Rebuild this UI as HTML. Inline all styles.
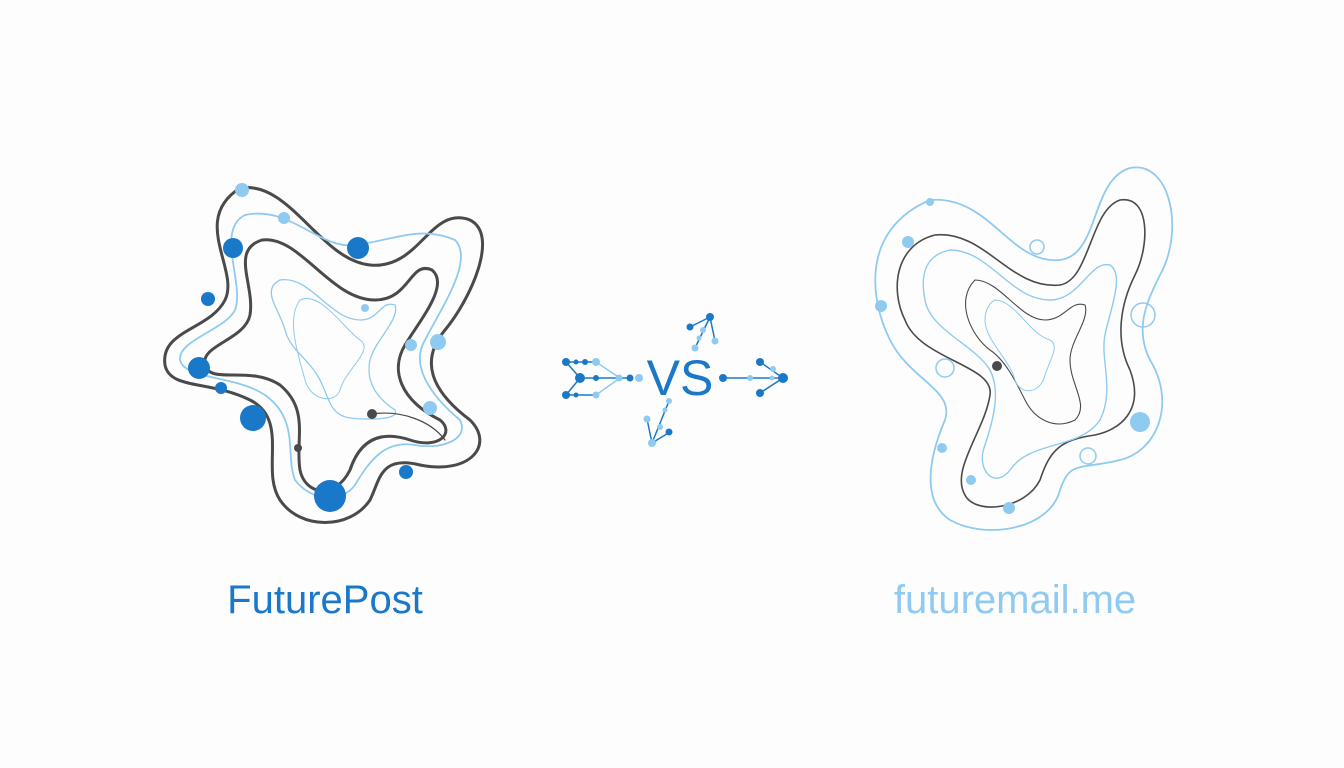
<!DOCTYPE html>
<html><head><meta charset="utf-8"><style>
html,body{margin:0;padding:0;background:#fdfdfd;width:1344px;height:768px;overflow:hidden}
svg{display:block}
</style></head><body>
<svg width="1344" height="768" viewBox="0 0 1344 768" xmlns="http://www.w3.org/2000/svg">
<rect width="1344" height="768" fill="#fdfdfd"/>
<g fill="none" stroke-linecap="round">
<path d="M240 188 C290 180,320 260,370 265 C420 270,430 205,470 220 C500 235,470 300,445 330 C420 360,430 390,470 420 C495 445,470 475,420 465 C380 455,380 480,370 500 C350 530,300 530,280 500 C260 470,290 420,250 400 C210 380,170 390,165 365 C160 330,210 330,225 300 C240 270,190 220,240 188 Z" stroke="#4a4a4a" stroke-width="3"/>
<path d="M262 240 C300 235,330 300,375 300 C410 300,410 260,432 270 C450 285,420 320,405 345 C390 370,400 400,440 420 C455 432,440 450,410 440 C380 430,360 440,350 470 C335 500,305 495,300 470 C295 440,310 410,280 385 C250 365,210 385,205 365 C200 345,245 340,250 315 C255 285,230 250,262 240 Z" stroke="#4a4a4a" stroke-width="3"/>
<path d="M245 215 C290 205,320 250,355 245 C395 240,420 225,455 240 C475 260,440 310,425 340 C410 365,430 395,460 420 C470 440,440 450,415 445 C385 440,370 460,355 485 C340 505,310 500,295 480 C285 455,300 420,265 395 C235 375,185 380,180 360 C178 340,225 330,235 310 C245 285,215 230,245 215 Z" stroke="#8fcaf0" stroke-width="1.8"/>
<path d="M280 280 C310 275,330 320,360 320 C380 320,380 300,395 305 C400 320,375 340,370 360 C365 385,380 400,395 410 C400 420,370 420,350 418 C330 415,330 400,320 380 C310 360,290 350,285 330 C280 310,260 290,280 280 Z" stroke="#8fcaf0" stroke-width="1.3"/>
<path d="M300 300 C320 290,345 330,360 340 C375 350,345 370,340 390 C335 405,310 400,305 380 C300 360,285 320,300 300 Z" stroke="#8fcaf0" stroke-width="1"/>
<path d="M372 414 C400 410,430 420,445 440" stroke="#4a4a4a" stroke-width="1.2"/>
</g>
<g>
<circle cx="242" cy="190" r="7" fill="#8fcaf0"/>
<circle cx="284" cy="218" r="6" fill="#8fcaf0"/>
<circle cx="233" cy="248" r="10" fill="#1a78c8"/>
<circle cx="358" cy="248" r="11" fill="#1a78c8"/>
<circle cx="208" cy="299" r="7" fill="#1a78c8"/>
<circle cx="365" cy="308" r="4" fill="#8fcaf0"/>
<circle cx="199" cy="368" r="11" fill="#1a78c8"/>
<circle cx="221" cy="388" r="6" fill="#1a78c8"/>
<circle cx="411" cy="345" r="6" fill="#8fcaf0"/>
<circle cx="438" cy="342" r="8" fill="#8fcaf0"/>
<circle cx="253" cy="418" r="13" fill="#1a78c8"/>
<circle cx="372" cy="414" r="5" fill="#4a4a4a"/>
<circle cx="430" cy="408" r="7" fill="#8fcaf0"/>
<circle cx="298" cy="448" r="4" fill="#4a4a4a"/>
<circle cx="406" cy="472" r="7" fill="#1a78c8"/>
<circle cx="330" cy="496" r="16" fill="#1a78c8"/>
</g>
<g fill="none">
<path d="M930 200 C990 195,1010 265,1060 260 C1100 255,1090 180,1130 168 C1170 160,1185 230,1160 275 C1145 305,1135 330,1150 360 C1175 400,1160 450,1120 460 C1080 470,1070 460,1060 490 C1050 530,985 540,950 520 C920 500,930 455,945 420 C955 390,910 380,890 340 C870 300,860 230,930 200 Z" stroke="#8fcaf0" stroke-width="1.8"/>
<path d="M935 235 C985 230,1010 290,1060 285 C1090 280,1090 210,1120 200 C1150 195,1150 245,1135 275 C1120 305,1115 340,1130 370 C1145 410,1120 430,1095 435 C1060 440,1050 450,1040 480 C1025 510,975 515,965 495 C950 470,985 430,990 395 C995 365,920 360,905 320 C890 290,895 245,935 235 Z" stroke="#4a4a4a" stroke-width="1.6"/>
<path d="M950 250 C990 250,1010 300,1050 300 C1080 300,1090 260,1110 265 C1125 275,1110 310,1105 335 C1100 360,1115 390,1100 420 C1080 450,1030 440,1010 470 C995 490,975 470,985 445 C995 415,1000 390,990 370 C975 345,930 330,925 300 C920 275,925 255,950 250 Z" stroke="#8fcaf0" stroke-width="1.4"/>
<path d="M975 280 C1000 280,1020 320,1045 320 C1065 320,1070 300,1085 305 C1090 320,1070 340,1070 360 C1070 385,1090 405,1075 420 C1055 430,1035 420,1025 400 C1015 380,1005 360,990 350 C970 335,955 300,975 280 Z" stroke="#4a4a4a" stroke-width="1.1"/>
<path d="M995 300 C1015 300,1030 335,1050 340 C1060 345,1050 360,1045 375 C1040 395,1020 395,1015 380 C1010 360,985 340,985 320 C985 310,990 302,995 300 Z" stroke="#8fcaf0" stroke-width="1"/>
<circle cx="1037" cy="247" r="7" stroke="#8fcaf0" stroke-width="1.5"/>
<circle cx="1143" cy="315" r="12" stroke="#8fcaf0" stroke-width="1.5"/>
<circle cx="945" cy="368" r="9" stroke="#8fcaf0" stroke-width="1.5"/>
<circle cx="1088" cy="456" r="8" stroke="#8fcaf0" stroke-width="1.5"/>
</g>
<g fill="#8fcaf0">
<circle cx="930" cy="202" r="4"/>
<circle cx="908" cy="242" r="6"/>
<circle cx="881" cy="306" r="6"/>
<circle cx="997" cy="366" r="5" fill="#4a4a4a"/>
<circle cx="1140" cy="422" r="10"/>
<circle cx="942" cy="448" r="5"/>
<circle cx="971" cy="480" r="5"/>
<circle cx="1009" cy="508" r="6"/>
</g>
<g stroke-width="1.5">
<g stroke="#1a78c8"><line x1="566" y1="362" x2="580" y2="378"/><line x1="566" y1="395" x2="580" y2="378"/><line x1="580" y1="378" x2="630" y2="378"/><line x1="566" y1="362" x2="596" y2="362"/><line x1="566" y1="395" x2="596" y2="395"/>
<line x1="722" y1="378" x2="783" y2="378"/><line x1="760" y1="362" x2="783" y2="378"/><line x1="760" y1="393" x2="783" y2="378"/>
<line x1="710" y1="317" x2="690" y2="327"/><line x1="710" y1="317" x2="695" y2="348"/><line x1="710" y1="317" x2="715" y2="341"/>
<line x1="652" y1="443" x2="670" y2="432"/><line x1="652" y1="443" x2="647" y2="419"/><line x1="652" y1="443" x2="669" y2="401"/></g>
<g stroke="#8fcaf0"><line x1="596" y1="362" x2="620" y2="378"/><line x1="596" y1="395" x2="620" y2="378"/></g>
</g>
<g fill="#1a78c8">
<circle cx="566" cy="362" r="4"/><circle cx="566" cy="395" r="4"/><circle cx="580" cy="378" r="5"/><circle cx="630" cy="378" r="3.5"/>
<circle cx="576" cy="362" r="2.5"/><circle cx="585" cy="362" r="3"/><circle cx="576" cy="395" r="2.5"/><circle cx="596" cy="378" r="3"/>
<circle cx="723" cy="378" r="4"/><circle cx="783" cy="378" r="5"/><circle cx="760" cy="362" r="4"/><circle cx="760" cy="393" r="4"/>
<circle cx="710" cy="317" r="4"/><circle cx="690" cy="327" r="3.5"/><circle cx="669" cy="432" r="3.5"/>
</g>
<g fill="#8fcaf0">
<circle cx="596" cy="362" r="4"/><circle cx="596" cy="395" r="3.5"/><circle cx="619" cy="378" r="3.5"/><circle cx="639" cy="378" r="4"/>
<circle cx="750" cy="378" r="3"/><circle cx="773" cy="369" r="3"/><circle cx="772" cy="378" r="2.5"/>
<circle cx="703" cy="330" r="3"/><circle cx="699" cy="338" r="2.5"/><circle cx="695" cy="348" r="3.5"/><circle cx="715" cy="341" r="3.5"/>
<circle cx="669" cy="401" r="3"/><circle cx="665" cy="410" r="2.5"/><circle cx="660" cy="427" r="3"/><circle cx="647" cy="419" r="3.5"/><circle cx="652" cy="443" r="4"/>
</g>
<text x="680" y="395" text-anchor="middle" font-family="Liberation Sans, sans-serif" font-size="50" fill="#1a78c8">VS</text>
<text x="325" y="613" text-anchor="middle" font-family="Liberation Sans, sans-serif" font-size="40" fill="#1a78c8">FuturePost</text>
<text x="1015" y="613" text-anchor="middle" font-family="Liberation Sans, sans-serif" font-size="40" fill="#8fcaf0">futuremail.me</text>
</svg>
</body></html>
